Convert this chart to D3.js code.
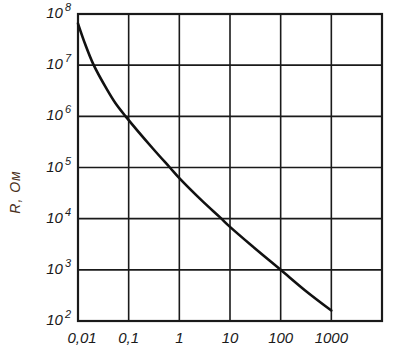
<!DOCTYPE html>
<html>
<head>
<meta charset="utf-8">
<script src="https://cdn.jsdelivr.net/npm/d3@7"></script>
<style>
  html, body { margin: 0; padding: 0; background: #fff; }
  svg { display: block; }
</style>
</head>
<body>
<div id="chart"></div>
<script>
// данные
const xTickValues = [0.01, 0.1, 1, 10, 100, 1000];
const xTickLabels = ["0,01", "0,1", "1", "10", "100", "1000"];
const yExponents = [2, 3, 4, 5, 6, 7, 8];
const xValues = [0.01, 0.014, 0.02, 0.037, 0.055, 0.087, 0.3, 0.65, 1, 3, 6.3, 10, 30, 100, 300, 1000];
const rValues = [6.5e7, 2.5e7, 1.05e7, 3.4e6, 1.8e6, 1e6, 2.35e5, 1e5, 6.2e4, 2.1e4, 1.07e4, 6.9e3, 2.7e3, 1e3, 400, 160];
const yLabel = "R, Ом";

const W = 396, H = 354;
const margin = { top: 14, right: 14, bottom: 33, left: 78 };
const width = W - margin.left - margin.right;
const height = H - margin.top - margin.bottom;

const svg = d3.select("#chart")
    .append("svg")
    .attr("width", W)
    .attr("height", H);

const g = svg.append("g")
    .attr("transform", `translate(${margin.left},${margin.top})`);

const x = d3.scaleLog().domain([0.01, 10000]).range([0, width]);
const y = d3.scaleLog().domain([100, 1e8]).range([height, 0]);

const ink = "#1a1a1a";
const font = "'Liberation Sans', Arial, sans-serif";

// сетка
g.selectAll(".vgrid")
    .data(xTickValues.slice(1))
    .join("line")
    .attr("x1", d => x(d)).attr("x2", d => x(d))
    .attr("y1", 0).attr("y2", height)
    .attr("stroke", ink).attr("stroke-width", 1.6);

g.selectAll(".hgrid")
    .data(yExponents.slice(1, -1))
    .join("line")
    .attr("x1", 0).attr("x2", width)
    .attr("y1", d => y(Math.pow(10, d))).attr("y2", d => y(Math.pow(10, d)))
    .attr("stroke", ink).attr("stroke-width", 1.6);

// рамка
g.append("rect")
    .attr("width", width).attr("height", height)
    .attr("fill", "none")
    .attr("stroke", ink).attr("stroke-width", 2.2);

// кривая
const line = d3.line()
    .x((d, i) => x(xValues[i]))
    .y(d => y(d))
    .curve(d3.curveCatmullRom.alpha(0.5));

g.append("path")
    .datum(rValues)
    .attr("d", line)
    .attr("fill", "none")
    .attr("stroke", "#111")
    .attr("stroke-width", 2.6)
    .attr("stroke-linecap", "round");

// подписи оси X
g.selectAll(".xlab")
    .data(xTickValues)
    .join("text")
    .attr("x", (d, i) => x(d) + (i === 0 ? 4 : 0))
    .attr("y", height + 22)
    .attr("text-anchor", "middle")
    .attr("font-family", font)
    .attr("font-style", "italic")
    .attr("font-size", 15)
    .attr("fill", ink)
    .text((d, i) => xTickLabels[i]);

// подписи оси Y: 10 со степенью
const ylab = g.selectAll(".ylab")
    .data(yExponents)
    .join("text")
    .attr("x", -7)
    .attr("y", d => y(Math.pow(10, d)) + 4)
    .attr("text-anchor", "end")
    .attr("font-family", font)
    .attr("font-style", "italic")
    .attr("font-size", 15)
    .attr("fill", ink);

ylab.append("tspan").text("10");
ylab.append("tspan")
    .attr("dy", -7)
    .attr("dx", 2)
    .attr("font-size", 11)
    .text(d => d);

// название оси Y
svg.append("text")
    .attr("transform", `translate(20,${192}) rotate(-90)`)
    .attr("text-anchor", "middle")
    .attr("font-family", font)
    .attr("font-style", "italic")
    .attr("font-size", 14)
    .attr("letter-spacing", 1)
    .attr("fill", "#4a3020")
    .text(yLabel);
</script>
</body>
</html>
